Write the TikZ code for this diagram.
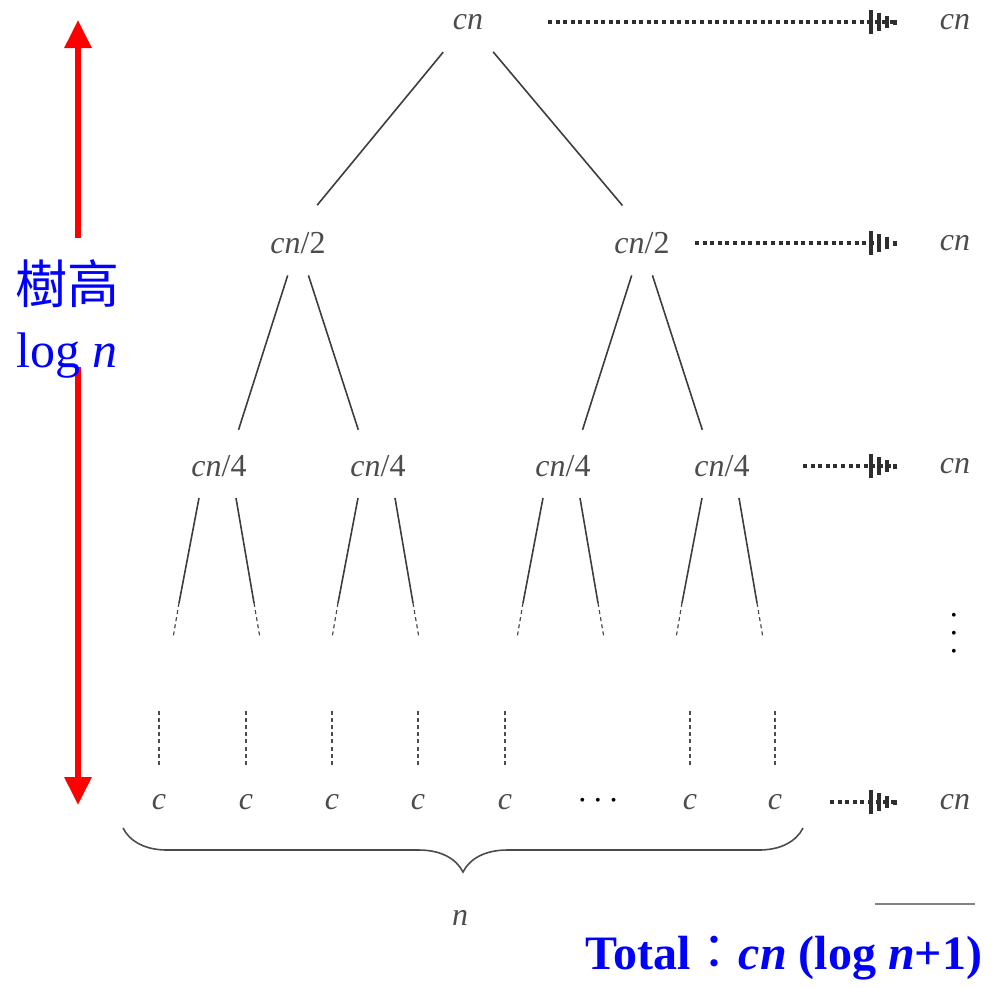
\documentclass[tikz,border=0pt]{standalone}
\usepackage{fontspec}
\setmainfont{Liberation Serif}
\newfontfamily\cjk{Noto Sans CJK TC}
\usetikzlibrary{arrows.meta,calc,decorations.pathreplacing}
\definecolor{ink}{gray}{0.3}
\definecolor{hblue}{RGB}{0,0,255}
\definecolor{hred}{RGB}{255,0,0}

\begin{document}
\begin{tikzpicture}[x=0.5pt, y=-0.5pt,
    term/.style={text=ink, font=\fontsize{16}{18}\selectfont, inner sep=1pt},
    edge/.style={draw=ink!80!black, line width=0.8pt},
    ghost/.style={draw=ink, line width=0.6pt, dash pattern=on 2pt off 1.6pt},
    sumarrow/.style={draw=ink!60!black, line width=2pt, dash pattern=on 2pt off 1.8pt,
        -{Bar[width=12pt,sep=2pt]Bar[width=9pt,sep=2pt]Bar[width=6pt,sep=2pt]Bar[width=2.5pt]}},
    hgtarrow/.style={draw=hred, line width=3pt, -{Triangle[width=13pt,length=14pt]}},
    hgtlab/.style={text=hblue, inner sep=0pt},
    brace/.style={draw=ink, line width=0.8pt,
        decorate, decoration={brace, amplitude=22pt}}]
    \useasboundingbox (0,0) rectangle (994,987);

    % tree
    \node[term] (root) at (468,22)  {\textit{cn}};
    \node[term] (n2a)  at (298,243) {\textit{cn}/2};
    \node[term] (n2b)  at (642,243) {\textit{cn}/2};
    \node[term] (n4a)  at (219,466) {\textit{cn}/4};
    \node[term] (n4b)  at (378,466) {\textit{cn}/4};
    \node[term] (n4c)  at (563,466) {\textit{cn}/4};
    \node[term] (n4d)  at (722,466) {\textit{cn}/4};

    \draw[edge, shorten <=19.5pt, shorten >=24.5pt] (root.center) -- ([xshift=-6pt]n2a.center);
    \draw[edge, shorten <=19.5pt, shorten >=24.5pt] (root.center) -- ([xshift=6pt]n2b.center);
    \draw[edge, shorten <=17pt, shorten >=19pt] (n2a.center) -- ([xshift=4pt]n4a.center);
    \draw[edge, shorten <=17pt, shorten >=19pt] (n2a.center) -- ([xshift=-4pt]n4b.center);
    \draw[edge, shorten <=17pt, shorten >=19pt] (n2b.center) -- ([xshift=4pt]n4c.center);
    \draw[edge, shorten <=17pt, shorten >=19pt] (n2b.center) -- ([xshift=-4pt]n4d.center);

    \foreach \p in {n4a,n4b,n4c,n4d}{
        \draw[edge] ($(\p)+(-20,32)$) -- ++(-20,105) coordinate (\p-l);
        \draw[ghost] (\p-l) -- ++(-6,35);
        \draw[edge] ($(\p)+(17,32)$) -- ++(18,105) coordinate (\p-r);
        \draw[ghost] (\p-r) -- ++(6,35);
    }

    % leaves
    \foreach \c/\x in {c1/159, c2/246, c3/332, c4/418, c5/505, c6/690, c7/775}{
        \node[term] (\c) at (\x,802) {\textit{c}};
        \draw[ghost] ($(\c)+(0,-37)$) -- ++(0,-56);
    }
    \node[term, text=black, font=\fontsize{8}{9}\selectfont] (cdots) at (598,802)
        {\textbullet\hspace{5pt}\textbullet\hspace{5pt}\textbullet};

    \coordinate (bl) at ($(c1)+(-36,26)$);
    \coordinate (br) at ($(c7)+(28,26)$);
    \draw[brace] (br) -- (bl);
    \node[term] (nlab) at (460,918) {\textit{n}};

    % level sums
    \node[term] (s1) at (955,22)  {\textit{cn}};
    \node[term] (s2) at (955,243) {\textit{cn}};
    \node[term] (s3) at (955,466) {\textit{cn}};
    \node[term] (s4) at (955,802) {\textit{cn}};
    \node[term, text=black, align=center, font=\fontsize{8}{9}\selectfont] (vd) at (954,635)
        {\textbullet\\\textbullet\\\textbullet};

    \draw[sumarrow, shorten <=40pt, shorten >=29pt] (root.center) -- (s1.center);
    \draw[sumarrow, shorten <=26.5pt, shorten >=29pt] (n2b.center) -- (s2.center);
    \draw[sumarrow, shorten <=40.5pt, shorten >=29pt] (n4d.center) -- (s3.center);
    \draw[sumarrow, shorten <=27.5pt, shorten >=29pt] (c7.center) -- (s4.center);

    \draw[draw=ink!70, line width=1pt] (875,904) -- (975,904);
    \node[hgtlab, font=\fontsize{24}{28}\selectfont\bfseries] (tot) at (784,958)
        {Total{\mdseries\cjk ：}\textit{cn} (log \textit{n}+1)};

    % tree height
    \coordinate (htop) at (78,20);
    \coordinate (hup)  at (78,238);
    \coordinate (hdn)  at (78,367);
    \coordinate (hbot) at (78,805);
    \draw[hgtarrow] (hup) -- (htop);
    \draw[hgtarrow] (hdn) -- (hbot);
    \node[hgtlab, font=\fontsize{26}{30}\selectfont] (hgt) at (67,284) {\cjk 樹高};
    \node[hgtlab, font=\fontsize{25}{30}\selectfont] (hlog) at (67,356) {log \textit{n}};
\end{tikzpicture}
\end{document}
